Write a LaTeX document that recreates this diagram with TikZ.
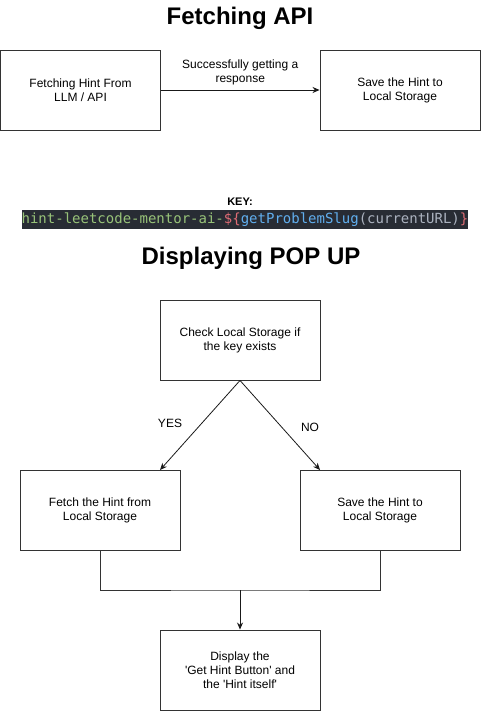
\documentclass[tikz,border=0pt]{standalone}
\usepackage{fontspec}
\setmainfont{Liberation Sans}
\setmonofont{DejaVu Sans Mono}
\usetikzlibrary{positioning,arrows.meta}
\definecolor{codebg}{HTML}{282C34}
\definecolor{codegreen}{HTML}{98C379}
\definecolor{codered}{HTML}{E06C75}
\definecolor{codeblue}{HTML}{61AFEF}
\definecolor{codegray}{HTML}{ABB2BF}
\begin{document}
\begin{tikzpicture}[x=1pt,y=-1pt,>={Stealth[length=7pt,width=6pt]},
                    thick,box node/.style={draw=black!80,line width=0.9pt,minimum width=160pt,minimum height=80pt,
                    align=center,font=\fontsize{12}{14}\selectfont,inner sep=2pt},
                    title node/.style={font=\fontsize{24}{28}\selectfont\bfseries},
                    label node/.style={font=\fontsize{12}{14}\selectfont,align=center}]
        \useasboundingbox (0,0) rectangle (481,711);

        % Fetching API
        \node[title node] (title1) at (240,18) {Fetching API};
        \node[box node] (fetchapi) at (80.5,90) {Fetching Hint From\\LLM / API};
        \node[box node] (savehint) at (400,90) {Save the Hint to\\Local Storage};

        % Key
        \node[font=\fontsize{11}{13}\selectfont\bfseries] (keylabel) at (240,202) {KEY:};
        \node[fill=codebg,minimum width=446pt,minimum height=19pt,inner sep=0pt,
              font=\ttfamily\fontsize{14}{15}\selectfont] (key) at (245,219.5)
            {\textcolor{codegreen}{hint-leetcode-mentor-ai-}\textcolor{codered}{\$\{}\textcolor{codeblue}{getProblemSlug}\textcolor{codegray}{(currentURL)}\textcolor{codered}{\}}};

        % Displaying POP UP
        \node[title node] (title2) at (251,258) {Displaying POP UP};
        \node[box node] (check) at (240,340) {Check Local Storage if\\the key exists};
        \node[box node] (fetchlocal) at (100,510) {Fetch the Hint from\\Local Storage};
        \node[box node] (savelocal) at (380,510) {Save the Hint to\\Local Storage};
        \node[box node] (display) at (240,670) {Display the\\\textquotesingle Get Hint Button\textquotesingle{} and\\the \textquotesingle Hint itself\textquotesingle};
        \node[label node] (yes) at (170,423) {YES};
        \node[label node] (no) at (310,427) {NO};
        \coordinate (join) at (240,590);
        \coordinate (yesend) at (160,470);
        \coordinate (noend) at (320,470);

        % Draw edges
        \path[->,line width=0.8pt,every edge/.append style={draw=black!90}]
            (fetchapi) edge node[label node,above=1pt] {Successfully getting a\\response} (savehint)
            (check.south) edge (yesend)
            (check.south) edge (noend);
        \draw[draw=black!80,line width=0.8pt] (fetchlocal.south) |- (join) -| (savelocal.south);
        \draw[->,draw=black!90,line width=0.8pt] (join) -- (display);

        \end{tikzpicture}
\end{document}
